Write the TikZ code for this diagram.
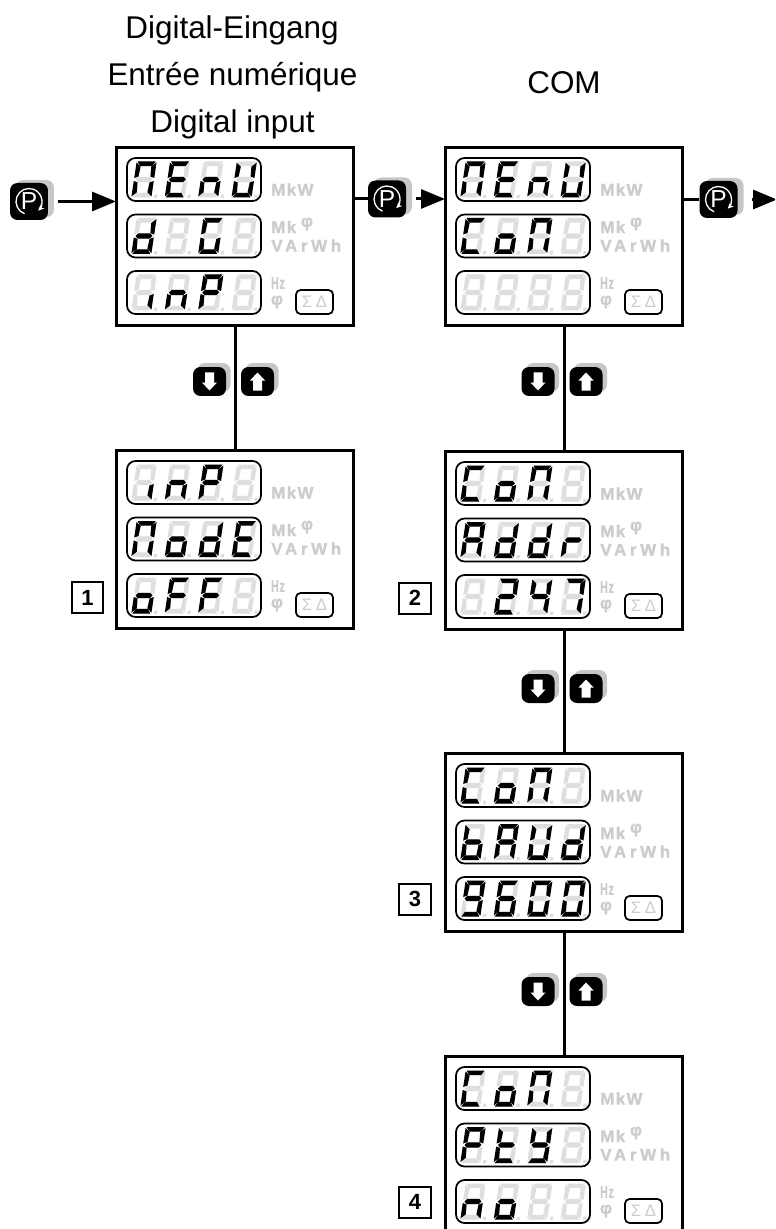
\documentclass[tikz,border=0pt]{standalone}
\usepackage{fontspec}
\setmainfont{Liberation Sans}
\newfontfamily\unitfont[LetterSpace=8,BoldFeatures={FakeBold=1.4}]{Liberation Sans}
\newfontfamily\widefont[LetterSpace=22,BoldFeatures={FakeBold=1.4}]{Liberation Sans}
\usetikzlibrary{arrows.meta}

\definecolor{segoff}{HTML}{DEDEDE}
\definecolor{unitgray}{HTML}{CCCCCC}
\definecolor{keyshade}{HTML}{C6C6C6}

\tikzset{
	titletext/.style={font=\fontsize{17.9}{20}\selectfont, inner sep=0pt, anchor=base},
	panelbox/.style={draw, fill=white, line width=0.06cm, minimum width=4.76cm, minimum height=3.58cm, inner sep=0pt, outer sep=0pt},
	lcdframe/.style={draw, fill=white, line width=0.035cm, rounded corners=0.17cm},
	unittext/.style={text=unitgray, inner sep=0pt, font=\unitfont\bfseries\fontsize{9.6}{10}\selectfont},
	widetext/.style={text=unitgray, inner sep=0pt, font=\widefont\bfseries\fontsize{9.6}{10}\selectfont},
	sumbox/.style={draw, line width=0.035cm, rounded corners=0.09cm, minimum width=0.74cm, minimum height=0.48cm, inner sep=0pt, text=unitgray, font=\widefont\fontsize{9.5}{10}\selectfont},
	keybox/.style={fill=black, rounded corners=0.15cm, inner sep=0pt, text=white},
	keyshadow/.style={fill=keyshade, rounded corners=0.15cm, inner sep=0pt},
	numbox/.style={draw, line width=0.04cm, minimum width=0.64cm, minimum height=0.62cm, inner sep=0pt, font=\bfseries\fontsize{12.5}{14}\selectfont},
	flowline/.style={line width=0.06cm},
	flowarrow/.style={line width=0.06cm, -{Triangle[length=0.48cm,width=0.38cm]}}
}

% segments of one digit
\def\sega{(-9,-18) -- (9,-18) -- (6,-13.3) -- (-6,-13.3) -- cycle}
\def\segb{(10,-17) -- (10,-1.5) -- (6,-3) -- (5.3,-12.8) -- cycle}
\def\segc{(10,1.5) -- (10,17) -- (5.3,12.8) -- (6,3) -- cycle}
\def\segd{(-9,18) -- (9,18) -- (6,13.3) -- (-6,13.3) -- cycle}
\def\sege{(-10,1.5) -- (-10,17) -- (-5.3,12.8) -- (-6,3) -- cycle}
\def\segf{(-10,-17) -- (-10,-1.5) -- (-6,-3) -- (-5.3,-12.8) -- cycle}
\def\segg{(-8.5,0) -- (-6,-2.6) -- (6,-2.6) -- (8.5,0) -- (6,2.6) -- (-6,2.6) -- cycle}
\def\segz{(0,0)}

% characters
\def\glyphM{a,b,c,e,f}
\def\glyphE{a,d,e,f,g}
\def\glyphn{c,e,g}
\def\glyphU{b,c,d,e,f}
\def\glyphd{b,c,d,e,g}
\def\glyphG{a,c,d,e,f}
\def\glyphC{a,d,e,f}
\def\glypho{c,d,e,g}
\def\glyphA{a,b,c,e,f,g}
\def\glyphr{e,g}
\def\glyphF{a,e,f,g}
\def\glyphP{a,b,e,f,g}
\def\glypht{d,e,f,g}
\def\glyphY{b,c,d,f,g}
\def\glyphb{c,d,e,f,g}
\def\glyphi{c}
\def\glyphtwo{a,b,d,e,g}
\def\glyphfour{b,c,f,g}
\def\glyphseven{a,b,c}
\def\glyphnine{a,b,c,d,f,g}
\def\glyphsix{a,c,d,e,f,g}
\def\glyphzero{a,b,c,d,e,f}
\def\glyphx{z}

\newcommand{\lcddigit}[3]{%
	\begin{scope}[shift={(#1,#2)}, xslant=0.15]
		\foreach \sg in {a,b,c,d,e,f,g}{\fill[segoff] \csname seg\sg\endcsname;}
		\fill[segoff] (12.6,15.2) rectangle (15.8,18.4);
		\edef\litsegs{\csname glyph#3\endcsname}
		\foreach \sg in \litsegs{\fill[black] \csname seg\sg\endcsname;}
	\end{scope}}

\newcommand{\lcdrow}[2]{%
	\draw[lcdframe] (11,#1-21.5) rectangle (145,#1+21.5);
	\foreach \ch [count=\k] in {#2}{\pgfmathsetmacro{\dx}{28+33.4*(\k-1)}\lcddigit{\dx}{#1}{\ch}}}

\newcommand{\lcdpanel}[6]{%
	\node[panelbox] (#1) at (#2+119,#3+89.5) {};
	\begin{scope}[shift={(#2,#3)}]
		\lcdrow{32.5}{#4}
		\lcdrow{89}{#5}
		\lcdrow{145.5}{#6}
		\node[unittext, anchor=west] (#1-mkw) at (155,42.5) {MkW};
		\node[unittext, anchor=west] (#1-mk) at (155,80) {Mk};
		\node[unittext] (#1-phia) at (191,77) {φ};
		\node[widetext, anchor=west] (#1-varwh) at (155,98.5) {VArWh};
		\node[unittext, xscale=0.62] (#1-hz) at (162,136) {Hz};
		\node[unittext] (#1-phib) at (161,155) {φ};
		\node[sumbox] (#1-sum) at (198.5,155) {ΣΔ};
	\end{scope}}

\newcommand{\pkey}[3]{%
	\node[keyshadow, minimum width=0.76cm, minimum height=0.74cm] (#1-shade) at (#2+6,#3-3) {};
	\node[keybox, minimum width=0.76cm, minimum height=0.74cm, font=\fontsize{14}{14}\selectfont] (#1) at (#2,#3) {P};
	\draw[white, line width=0.026cm, -{Stealth[length=0.12cm,width=0.11cm]}] ([shift={(-110:0.26cm)}]#1.center) arc[start angle=-110, end angle=-405, radius=0.26cm];}

\newcommand{\updownkeys}[3]{%
	\node[keyshadow, minimum width=0.66cm, minimum height=0.58cm] (#1-dshade) at (#2-21,#3-4) {};
	\node[keybox, minimum width=0.66cm, minimum height=0.58cm] (#1-down) at (#2-25.5,#3) {};
	\node[keyshadow, minimum width=0.66cm, minimum height=0.58cm] (#1-ushade) at (#2+27,#3-4) {};
	\node[keybox, minimum width=0.66cm, minimum height=0.58cm] (#1-up) at (#2+22.5,#3) {};
	\fill[white] (#2-30,#3-9) -- (#2-21,#3-9) -- (#2-21,#3+1) -- (#2-18,#3+1) -- (#2-25.5,#3+9) -- (#2-33,#3+1) -- (#2-30,#3+1) -- cycle;
	\fill[white] (#2+18,#3+9) -- (#2+27,#3+9) -- (#2+27,#3-1) -- (#2+30,#3-1) -- (#2+22.5,#3-9) -- (#2+15,#3-1) -- (#2+18,#3-1) -- cycle;}

\begin{document}
\begin{tikzpicture}[x=0.02cm, y=-0.02cm]
	\clip (0,0) rectangle (775,1229);

	\node[titletext] (titlede) at (232,38.5) {Digital-Eingang};
	\node[titletext] (titlefr) at (232.5,86) {Entrée numérique};
	\node[titletext] (titleen) at (232.5,133) {Digital input};
	\node[titletext] (titlecom) at (564,94) {COM};

	\lcdpanel{dinmenu}{116}{147}{M,E,n,U}{d,x,G,x}{i,n,P,x}
	\lcdpanel{dinmode}{116}{450}{i,n,P,x}{M,o,d,E}{o,F,F,x}
	\lcdpanel{commenu}{445}{147}{M,E,n,U}{C,o,M,x}{x,x,x,x}
	\lcdpanel{comaddr}{445}{451}{C,o,M,x}{A,d,d,r}{x,two,four,seven}
	\lcdpanel{combaud}{445}{753}{C,o,M,x}{b,A,U,d}{nine,six,zero,zero}
	\lcdpanel{comparity}{445}{1056}{C,o,M,x}{P,t,Y,x}{n,o,x,x}

	\pkey{keya}{29}{201.5}
	\pkey{keyb}{387}{199}
	\pkey{keyc}{718.5}{199.5}
	\coordinate (exit) at (777,199.5);

	\draw[flowarrow, shorten <=0.2cm] (keya.east) -- (keya.east -| dinmenu.west);
	\draw[flowline] (dinmenu.east |- keyb.west) -- (keyb.west);
	\draw[flowarrow, shorten <=0.2cm] (keyb.east) -- (keyb.east -| commenu.west);
	\draw[flowline] (commenu.east |- keyc.west) -- (keyc.west);
	\draw[flowarrow, shorten <=0.28cm] (keyc.east) -- (exit);

	\draw[flowline] (dinmenu.south) -- (dinmode.north);
	\draw[flowline] (commenu.south) -- (comaddr.north);
	\draw[flowline] (comaddr.south) -- (combaud.north);
	\draw[flowline] (combaud.south) -- (comparity.north);

	\updownkeys{keysa}{235}{381.5}
	\updownkeys{keysb}{563.5}{381.5}
	\updownkeys{keysc}{563.5}{688.5}
	\updownkeys{keysd}{563.5}{991.5}

	\node[numbox] (numa) at (87.5,597.5) {1};
	\node[numbox] (numb) at (415,598) {2};
	\node[numbox] (numc) at (415,899) {3};
	\node[numbox] (numd) at (415,1202) {4};
\end{tikzpicture}
\end{document}
